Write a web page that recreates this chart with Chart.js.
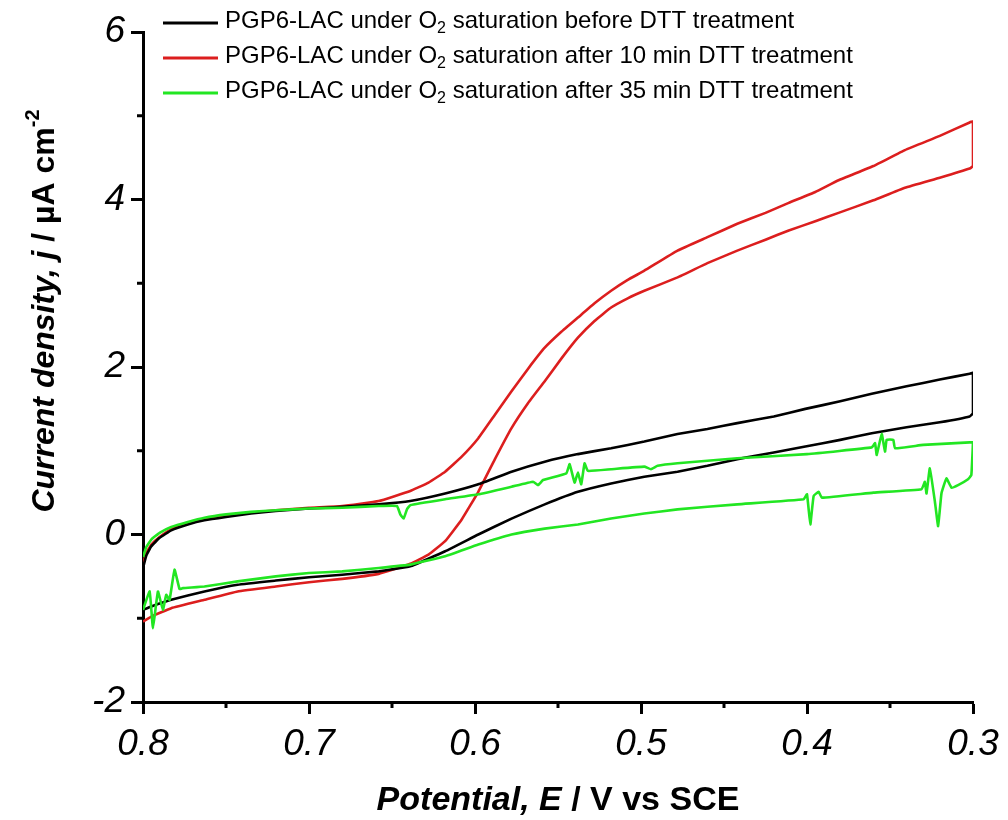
<!DOCTYPE html>
<html>
<head>
<meta charset="utf-8">
<script src="https://cdn.jsdelivr.net/npm/chart.js@4.4.1/dist/chart.umd.min.js"></script>
<style>
  html, body { margin: 0; padding: 0; background: #fff; }
  #wrap { width: 1008px; height: 820px; position: relative; }
</style>
</head>
<body>
<div id="wrap"><canvas id="cv"></canvas></div>
<script>
// ── Cyclic voltammograms: potential E (V vs SCE) and current density j (µA cm-2)
// each loop goes 0.8 -> 0.3 on the upper branch and back on the lower branch

const blackE = [0.800, 0.798, 0.795, 0.790, 0.783, 0.773, 0.763, 0.750, 0.735, 0.720, 0.700, 0.680, 0.658, 0.639, 0.618, 0.598, 0.578, 0.558, 0.538, 0.518, 0.498, 0.478, 0.460, 0.442, 0.420, 0.401, 0.380, 0.361, 0.340, 0.320, 0.302, 0.300,
                0.300, 0.302, 0.320, 0.340, 0.361, 0.380, 0.401, 0.420, 0.442, 0.460, 0.478, 0.498, 0.518, 0.538, 0.558, 0.578, 0.598, 0.618, 0.639, 0.658, 0.680, 0.700, 0.720, 0.743, 0.763, 0.783, 0.795, 0.800];
const blackJ = [-0.40, -0.25, -0.14, -0.04, 0.05, 0.12, 0.17, 0.21, 0.25, 0.28, 0.31, 0.33, 0.36, 0.40, 0.49, 0.60, 0.75, 0.87, 0.96, 1.03, 1.11, 1.20, 1.26, 1.33, 1.41, 1.50, 1.59, 1.68, 1.77, 1.85, 1.92, 1.93,
                1.45, 1.41, 1.34, 1.28, 1.21, 1.13, 1.05, 0.98, 0.90, 0.82, 0.75, 0.69, 0.61, 0.51, 0.36, 0.19, 0.00, -0.20, -0.38, -0.44, -0.48, -0.51, -0.55, -0.60, -0.68, -0.78, -0.86, -0.90];

const redE = [0.800, 0.798, 0.795, 0.790, 0.783, 0.773, 0.763, 0.750, 0.735, 0.720, 0.700, 0.680, 0.658, 0.639, 0.628, 0.618, 0.608, 0.598, 0.588, 0.578, 0.568, 0.558, 0.548, 0.538, 0.528, 0.518, 0.508, 0.498, 0.478, 0.460, 0.442, 0.425, 0.411, 0.395, 0.381, 0.360, 0.341, 0.320, 0.302, 0.300,
              0.300, 0.302, 0.320, 0.341, 0.360, 0.381, 0.395, 0.411, 0.425, 0.442, 0.460, 0.478, 0.498, 0.508, 0.518, 0.528, 0.538, 0.548, 0.558, 0.568, 0.578, 0.588, 0.598, 0.608, 0.618, 0.628, 0.639, 0.648, 0.658, 0.680, 0.700, 0.720, 0.743, 0.763, 0.783, 0.795, 0.800];
const redJ = [-0.35, -0.22, -0.12, -0.03, 0.06, 0.13, 0.18, 0.22, 0.26, 0.29, 0.32, 0.34, 0.40, 0.52, 0.62, 0.75, 0.93, 1.15, 1.43, 1.71, 1.98, 2.23, 2.42, 2.59, 2.76, 2.91, 3.04, 3.15, 3.39, 3.55, 3.71, 3.84, 3.96, 4.09, 4.23, 4.40, 4.59, 4.76, 4.92, 4.93,
              4.40, 4.37, 4.26, 4.14, 3.99, 3.84, 3.74, 3.63, 3.52, 3.39, 3.24, 3.07, 2.91, 2.82, 2.71, 2.55, 2.35, 2.10, 1.83, 1.57, 1.27, 0.90, 0.51, 0.18, -0.08, -0.24, -0.35, -0.41, -0.47, -0.53, -0.57, -0.62, -0.68, -0.78, -0.88, -0.98, -1.04];

const greenE = [0.800, 0.798, 0.795, 0.790, 0.783, 0.773, 0.763, 0.750, 0.735, 0.720, 0.700, 0.680, 0.658, 0.647, 0.645, 0.643, 0.641, 0.639, 0.618, 0.598, 0.578, 0.565, 0.562, 0.559, 0.545, 0.543, 0.540, 0.538, 0.536, 0.534, 0.532, 0.518, 0.498, 0.494, 0.490, 0.478, 0.442, 0.400, 0.361, 0.359, 0.358, 0.355, 0.353, 0.352, 0.348, 0.347, 0.330, 0.302, 0.300,
                0.300, 0.301, 0.303, 0.309, 0.313, 0.316, 0.319, 0.321, 0.323, 0.326, 0.328, 0.329, 0.331, 0.360, 0.391, 0.393, 0.396, 0.398, 0.400, 0.402, 0.442, 0.478, 0.498, 0.518, 0.538, 0.558, 0.578, 0.598, 0.618, 0.639, 0.658, 0.680, 0.700, 0.720, 0.743, 0.763, 0.776, 0.778, 0.781, 0.784, 0.786, 0.788, 0.791, 0.794, 0.796, 0.800];
const greenJ = [-0.27, -0.15, -0.06, 0.02, 0.09, 0.15, 0.20, 0.24, 0.27, 0.29, 0.31, 0.32, 0.34, 0.34, 0.24, 0.19, 0.30, 0.35, 0.42, 0.48, 0.57, 0.63, 0.59, 0.65, 0.73, 0.84, 0.62, 0.74, 0.60, 0.85, 0.76, 0.78, 0.81, 0.78, 0.82, 0.85, 0.91, 0.96, 1.04, 1.09, 0.95, 1.20, 0.99, 1.13, 1.13, 1.03, 1.07, 1.10, 1.10,
                1.10, 0.71, 0.66, 0.59, 0.56, 0.67, 0.49, 0.10, 0.40, 0.79, 0.49, 0.63, 0.54, 0.50, 0.44, 0.51, 0.46, 0.12, 0.48, 0.42, 0.36, 0.30, 0.25, 0.19, 0.12, 0.07, 0.00, -0.12, -0.26, -0.36, -0.40, -0.44, -0.46, -0.50, -0.56, -0.62, -0.64, -0.65, -0.42, -0.78, -0.72, -0.90, -0.68, -1.12, -0.68, -0.90];

const seriesColors = ['#000000', '#dc1e1e', '#22e622'];
const legendHead = 'PGP6-LAC under O';
const legendSub = '2';
const legendTails = [' saturation before DTT treatment', ' saturation after 10 min DTT treatment', ' saturation after 35 min DTT treatment'];

const xTicks = [0.3, 0.4, 0.5, 0.6, 0.7, 0.8];
const yTicks = [-2, 0, 2, 4, 6];

const FONT = 'Arial, "Liberation Sans", sans-serif';

const toPoints = (E, J) => E.map((e, i) => ({ x: e, y: J[i] }));

// ── Minor ticks, legend and axis titles ──────────────────────────────────────
const extras = {
  id: 'extras',
  afterDraw(chart) {
    const ctx = chart.ctx;
    const xs = chart.scales.x, ys = chart.scales.y;
    const area = chart.chartArea;
    ctx.save();
    ctx.strokeStyle = '#000';
    ctx.lineWidth = 3;
    // minor ticks halfway between majors
    for (let i = 0; i < xTicks.length - 1; i++) {
      const px = xs.getPixelForValue((xTicks[i] + xTicks[i + 1]) / 2);
      ctx.beginPath(); ctx.moveTo(px, area.bottom); ctx.lineTo(px, area.bottom + 6); ctx.stroke();
    }
    for (let i = 0; i < yTicks.length - 1; i++) {
      const py = ys.getPixelForValue((yTicks[i] + yTicks[i + 1]) / 2);
      ctx.beginPath(); ctx.moveTo(area.left, py); ctx.lineTo(area.left - 6, py); ctx.stroke();
    }

    // legend
    ctx.textBaseline = 'middle';
    ctx.textAlign = 'left';
    legendTails.forEach((tail, i) => {
      const y = 23 + i * 35;
      ctx.strokeStyle = seriesColors[i];
      ctx.lineWidth = 3;
      ctx.beginPath(); ctx.moveTo(163, y); ctx.lineTo(218, y); ctx.stroke();
      ctx.fillStyle = '#000';
      let x = 225;
      ctx.font = '24px ' + FONT;
      ctx.fillText(legendHead, x, y - 2); x += ctx.measureText(legendHead).width;
      ctx.font = '16px ' + FONT;
      ctx.fillText(legendSub, x, y + 6); x += ctx.measureText(legendSub).width;
      ctx.font = '24px ' + FONT;
      ctx.fillText(tail, x, y - 2);
    });

    // x title
    const xParts = [['italic bold 34px ', 'Potential, E'], ['bold 34px ', ' / V vs SCE']];
    drawParts(ctx, xParts, (area.left + area.right) / 2, 801);

    // y title (rotated)
    ctx.save();
    ctx.translate(45, 311);
    ctx.rotate(-Math.PI / 2);
    const yParts = [['italic bold 32px ', 'Current density, j'], ['bold 32px ', ' / \u00b5A cm'], ['bold 20px ', '-2', -12]];
    drawParts(ctx, yParts, 0, 0);
    ctx.restore();
    ctx.restore();
  },
};

function drawParts(ctx, parts, cx, cy) {
  let total = 0;
  parts.forEach(p => { ctx.font = p[0] + FONT; total += ctx.measureText(p[1]).width; });
  let x = cx - total / 2;
  ctx.fillStyle = '#000';
  ctx.textBaseline = 'middle';
  ctx.textAlign = 'left';
  parts.forEach(p => {
    ctx.font = p[0] + FONT;
    ctx.fillText(p[1], x, cy + (p[2] || 0));
    x += ctx.measureText(p[1]).width;
  });
}

const tickFont = { family: FONT, size: 37, style: 'italic' };

new Chart(document.getElementById('cv'), {
  type: 'scatter',
  data: {
    datasets: [
      { label: 'before DTT', data: toPoints(blackE, blackJ), borderColor: seriesColors[0], order: 1 },
      { label: '10 min DTT', data: toPoints(redE, redJ), borderColor: seriesColors[1], order: 2 },
      { label: '35 min DTT', data: toPoints(greenE, greenJ), borderColor: seriesColors[2], order: 0 },
    ].map(d => ({ ...d, showLine: true, pointRadius: 0, borderWidth: 2.6, tension: 0.1, borderJoinStyle: 'round', fill: false })),
  },
  options: {
    responsive: true,
    maintainAspectRatio: false,
    animation: false,
    devicePixelRatio: 1,
    layout: { padding: { top: 32, right: 35, left: 0, bottom: 0 } },
    plugins: { legend: { display: false }, tooltip: { enabled: false } },
    scales: {
      x: {
        type: 'linear', min: 0.3, max: 0.8, reverse: true,
        border: { display: true, color: '#000', width: 3 },
        grid: { drawOnChartArea: false, drawTicks: true, tickLength: 12, tickWidth: 3, tickColor: '#000' },
        ticks: { stepSize: 0.1, color: '#000', font: tickFont, padding: 9, maxRotation: 0, callback: v => v.toFixed(1) },
        afterFit: s => { s.height = 118; },
      },
      y: {
        type: 'linear', min: -2, max: 6,
        border: { display: true, color: '#000', width: 3 },
        grid: { drawOnChartArea: false, drawTicks: true, tickLength: 12, tickWidth: 3, tickColor: '#000' },
        ticks: { stepSize: 2, color: '#000', font: tickFont, padding: 6, callback: v => String(v) },
        afterFit: s => { s.width = 143; },
      },
    },
  },
  plugins: [extras],
});
</script>
</body>
</html>
